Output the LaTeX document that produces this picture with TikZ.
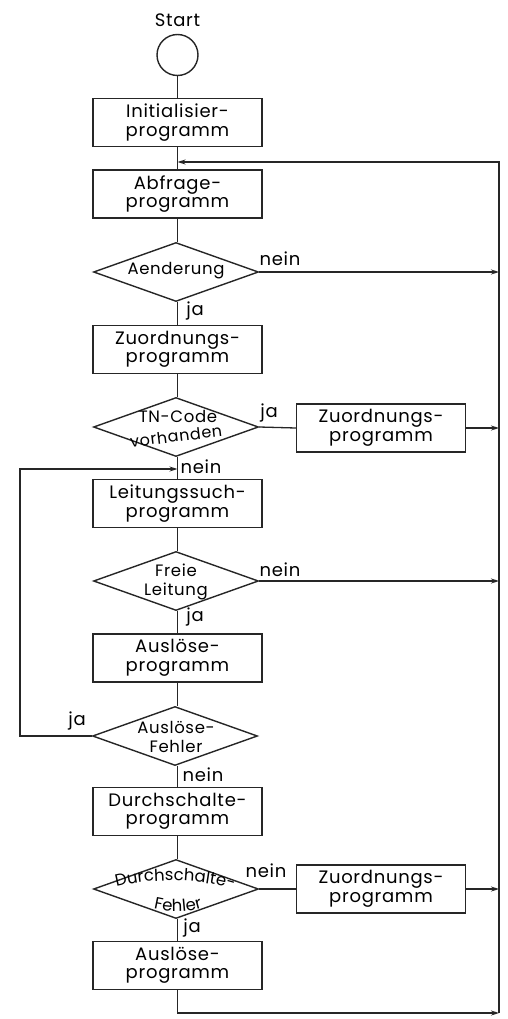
\documentclass[tikz,border=0pt]{standalone}
\usepackage{fontspec}
\setmainfont{Poppins}[LetterSpace=4]
\usetikzlibrary{shapes.geometric,arrows.meta,decorations.text}
\newcommand{\dtxt}{\fontsize{16.5}{18}\selectfont}
\begin{document}
\begin{tikzpicture}[x=1pt,y=-1pt,
  every node/.style={font=\fontsize{18}{18.5}\selectfont},
  line/.style={line width=1.3pt, draw=black!85},
  box/.style={draw=black!85, line width=1.4pt, minimum width=169pt, minimum height=48pt, inner sep=0pt, align=center},
  dia/.style={draw=black!85, diamond, line width=1.4pt, minimum width=165pt, minimum height=59pt, inner sep=0pt},
  dtext/.style={inner sep=0pt, align=center, font=\fontsize{16.5}{18.5}\selectfont},
  arr/.style={-{Stealth[length=8pt,width=5pt]}},
  lbl/.style={inner sep=0pt}
]
\useasboundingbox (0,0) rectangle (507,1019);
% nodes
\node[lbl] (startlbl) at (177.5,20) {Start};
\node[circle, draw=black!85, line width=1.4pt, minimum size=41pt, inner sep=0pt] (start) at (177.5,55) {};
\node[box] (b1) at (177.5,122.5) {Initialisier-\\programm};
\node[box] (b2) at (177.5,194) {Abfrage-\\programm};
\node[dia] (d1) at (176,272) {};
\node[dtext] (d1t) at (176,271) {Aenderung};
\node[box] (b3) at (177.5,349.5) {Zuordnungs-\\programm};
\node[dia] (d2) at (176,427) {};
\node[dtext] (d2t1) at (178,416) {TN-Code};
\node[dtext, rotate=7, font=\fontsize{16}{18}\selectfont] (d2t2) at (176,436) {vorhanden};
\node[box] (s1) at (381,428) {Zuordnungs-\\programm};
\node[box] (b4) at (177.5,503.5) {Leitungssuch-\\programm};
\node[dia] (d3) at (176,581) {};
\node[dtext] (d3t) at (176,582) {Freie\\Leitung};
\node[box] (b5) at (177.5,658) {Auslöse-\\programm};
\node[dia] (d4) at (175,736) {};
\node[dtext] (d4t) at (176,737) {Auslöse-\\Fehler};
\node[box] (b6) at (177.5,811.5) {Durchschalte-\\programm};
\node[dia] (d5) at (176,889) {};
\node[box] (s2) at (381,889) {Zuordnungs-\\programm};
\node[box] (b7) at (177.5,965.5) {Auslöse-\\programm};
% curved texts
\path[decorate, decoration={text along path, text={|\dtxt|Durchschalte-}, text align=center}]
  (106,890) .. controls (145,877) and (204,877) .. (244,893);
\path[decorate, decoration={text along path, text={|\dtxt|Fehler}, text align=center}]
  (142,905) .. controls (164,914) and (191,914) .. (214,903);
% labels
\node[lbl] (l1n) at (280,259) {nein};
\node[lbl] (l1j) at (195,311) {ja};
\node[lbl] (l2j) at (269,413) {ja};
\node[lbl] (l2n) at (201,467) {nein};
\node[lbl] (l3n) at (280,570) {nein};
\node[lbl] (l3j) at (195,617) {ja};
\node[lbl] (l4j) at (77,721) {ja};
\node[lbl] (l4n) at (203,775) {nein};
\node[lbl] (l5n) at (266,871) {nein};
\node[lbl] (l5j) at (192,928) {ja};
% coordinates
\coordinate (TR) at (499,162);
\coordinate (J1) at (177.5,162);
\coordinate (J2) at (177.5,469);
\coordinate (LT) at (20,469);
\coordinate (B) at (177.5,1013);
\coordinate (BR) at (499,1013);
% connectors
\draw[line] (start) -- (b1);
\draw[line] (b1) -- (b2);
\draw[line] (b2) -- (b2 |- d1.north);
\draw[line] (b3 |- d1.south) -- (b3);
\draw[line] (b3) -- (b3 |- d2.north);
\draw[line] (d2.east) -- (s1.west);
\draw[line] (b4 |- d2.south) -- (b4);
\draw[line] (b4) -- (b4 |- d3.north);
\draw[line] (b5 |- d3.south) -- (b5);
\draw[line] (b5) -- (b5 |- d4.north);
\draw[line] (b6 |- d4.south) -- (b6);
\draw[line] (b6) -- (b6 |- d5.north);
\draw[line] (d5.east) -- (s2.west);
\draw[line] (b7 |- d5.south) -- (b7);
\draw[line, arr] (d1.east) -- (d1.east -| TR);
\draw[line, arr] (s1.east) -- (s1.east -| TR);
\draw[line, arr] (d3.east) -- (d3.east -| TR);
\draw[line, arr] (s2.east) -- (s2.east -| TR);
\draw[line, arr] (d4.west) -| (LT) -- (J2);
\draw[line, arr] (b7.south) -- (B) -- (BR);
\draw[line, arr] (BR) -- (TR) -- (J1);
\end{tikzpicture}
\end{document}
